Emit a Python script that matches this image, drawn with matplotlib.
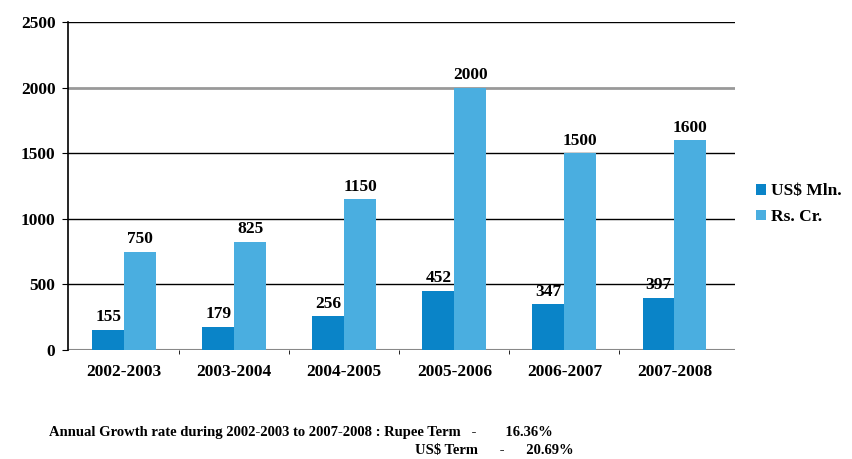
import matplotlib
matplotlib.use("Agg")
import matplotlib.pyplot as plt
import numpy as np

categories = ["2002-2003", "2003-2004", "2004-2005", "2005-2006", "2006-2007", "2007-2008"]
usd_mln = [155, 179, 256, 452, 347, 397]
rs_cr = [750, 825, 1150, 2000, 1500, 1600]
yticks = [0, 500, 1000, 1500, 2000, 2500]

plt.rcParams['font.family'] = ['Liberation Serif', 'DejaVu Serif']
plt.rcParams['font.weight'] = 'bold'

fig = plt.figure(figsize=(8.53, 4.59), dpi=100)
ax = fig.add_axes([0.0797, 0.2375, 0.782, 0.7145])

x = np.arange(len(categories))
w = 0.29
c1 = "#0a84c8"
c2 = "#4aaee0"
b1 = ax.bar(x - w/2, usd_mln, w, color=c1, label="US$ Mln.", zorder=3)
b2 = ax.bar(x + w/2, rs_cr, w, color=c2, label="Rs. Cr.", zorder=3)

for xi, v in zip(x, usd_mln):
    ax.text(xi - w/2, v + 35, str(v), ha='center', va='bottom', fontsize=12.5, fontweight='bold', zorder=4)
for xi, v in zip(x, rs_cr):
    ax.text(xi + w/2, v + 35, str(v), ha='center', va='bottom', fontsize=12.5, fontweight='bold', zorder=4)

ax.set_ylim(0, 2500)
ax.set_xlim(-0.51, 5.55)
ax.set_yticks(yticks)
ax.set_yticklabels([str(t) for t in yticks], fontsize=12.5, fontweight='bold')
ax.set_xticks(x)
ax.set_xticklabels(categories, fontsize=12.5, fontweight='bold')
ax.tick_params(axis='x', which='major', length=0, pad=10)
ax.set_xticks(x[:-1] + 0.5, minor=True)
ax.tick_params(axis='x', which='minor', length=3, direction='out')
ax.tick_params(axis='y', length=4, direction='out', pad=5)

for t in [500, 1000, 1500, 2500]:
    ax.axhline(t, color='black', lw=1.0, zorder=1)
ax.axhline(2000, color='#999999', lw=2.0, zorder=1)
ax.axhline(0, color='#888888', lw=1.5, zorder=1)

for s in ['top', 'right', 'bottom']:
    ax.spines[s].set_visible(False)
ax.spines['left'].set_linewidth(1.2)

leg = fig.legend(handles=[b1, b2], loc='center left', bbox_to_anchor=(0.868, 0.555),
                 frameon=False, fontsize=12.5, handlelength=0.55, handleheight=0.55,
                 handletextpad=0.3, labelspacing=0.55)
for t in leg.get_texts():
    t.set_fontweight('bold')

fig.text(0.058, 0.057, "Annual Growth rate during 2002-2003 to 2007-2008 : Rupee Term   -        16.36%",
         fontsize=10.5, fontweight='bold', ha='left', va='center')
fig.text(0.486, 0.018, "US$ Term      -      20.69%",
         fontsize=10.5, fontweight='bold', ha='left', va='center')

fig.savefig("out.png", dpi=100)
